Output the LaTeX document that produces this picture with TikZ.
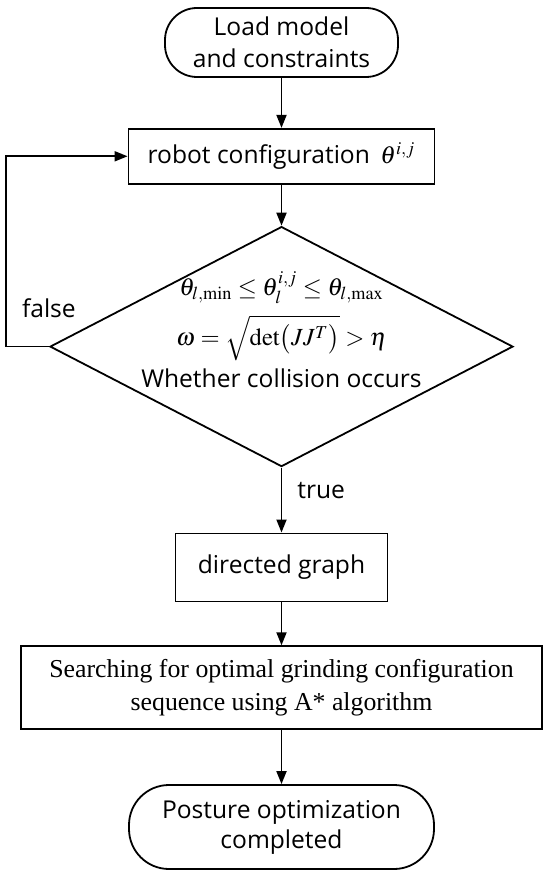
\documentclass[tikz,border=0pt]{standalone}
\usepackage{mathptmx}
\usepackage[no-math]{fontspec}
\setmainfont{Open Sans}
\newfontfamily\tmsfont{Liberation Serif}
\usetikzlibrary{arrows.meta, positioning, shapes.geometric}
\tikzset{
  term/.style={rectangle, rounded corners=16pt, draw, align=center, inner sep=0pt, font=\fontsize{12.3}{16}\selectfont},
  blk/.style ={rectangle, draw, align=center, inner sep=0pt, font=\fontsize{12.3}{16}\selectfont},
  dec/.style ={diamond, draw, inner sep=0pt, minimum width=231.5pt, minimum height=120pt},
  txt/.style ={inner sep=0pt, font=\fontsize{12.3}{16}\selectfont},
  fl/.style  ={-{Triangle[length=6.5pt, width=5pt]}},
  lbl/.style ={font=\fontsize{12.3}{16}\selectfont, inner sep=1pt},
}
\begin{document}
\begin{tikzpicture}[line width=0.9pt]
  \useasboundingbox (0,0) rectangle (275pt,-435pt);
  \node[term, minimum width=116.5pt, minimum height=34.5pt] (load) at (140.75pt,-21.25pt) {Load model\\and constraints};
  \node[blk, below=25pt of load, minimum width=153pt, minimum height=27.5pt] (cfg) {robot configuration \,$\theta^{i,j}$};
  \node[dec, below=20.5pt of cfg] (chk) {};
  \node[txt, anchor=base] (c1) at ([yshift=25.5pt]chk.center) {$\theta_{l,\min}\le\theta_l^{i,j}\le\theta_{l,\max}$};
  \node[txt, anchor=base] (c2) at ([yshift=0.5pt]chk.center) {$\omega=\sqrt{\det\bigl(JJ^T\bigr)}>\eta$};
  \node[txt, anchor=base] (c3) at ([yshift=-20.5pt]chk.center) {Whether collision occurs};
  \node[blk, below=32.5pt of chk, minimum width=106pt, minimum height=34pt] (dg) {directed graph};
  \node[blk, below=21.5pt of dg, minimum width=260.5pt, minimum height=41.5pt, font=\tmsfont\fontsize{12.9}{16.5}\selectfont] (astar) {Searching for optimal grinding configuration\\sequence using A* algorithm};
  \node[term, below=27pt of astar, minimum width=152.5pt, minimum height=42pt, rounded corners=20pt, font=\fontsize{12.3}{15}\selectfont] (done) {Posture optimization\\completed};
  \draw[fl] (load)--(cfg);
  \draw[fl] (cfg)--(chk);
  \draw[fl] (chk)-- node[lbl, right=6.5pt, pos=0.35]{true} (dg);
  \draw[fl] (dg)--(astar);
  \draw[fl] (astar)--(done);
  \draw[fl] (chk.west) -- ++(-21.5pt,0) coordinate (fb) |- (cfg.west);
  \node[lbl, anchor=south west] (fls) at ([xshift=6.5pt, yshift=13pt]fb) {false};
\end{tikzpicture}
\end{document}
